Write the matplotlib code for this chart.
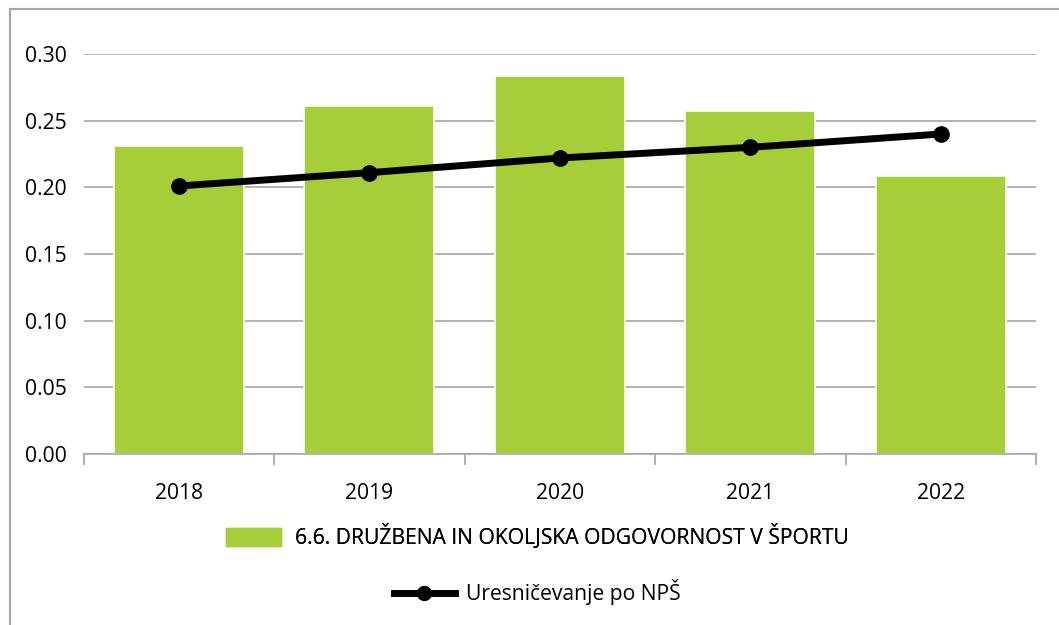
import matplotlib.pyplot as plt
from matplotlib.lines import Line2D
from matplotlib.patches import Rectangle

years = ['2018', '2019', '2020', '2021', '2022']
odgovornost = [0.231, 0.261, 0.2835, 0.257, 0.2085]
uresnicevanje = [0.201, 0.211, 0.222, 0.230, 0.240]

bar_label = '6.6. DRUŽBENA IN OKOLJSKA ODGOVORNOST V ŠPORTU'
line_label = 'Uresničevanje po NPŠ'

green = '#a6ce39'
grid_grey = '#a6a6a6'

plt.rcParams['font.family'] = ['Open Sans', 'DejaVu Sans']
fs = 15.2

fig = plt.figure(figsize=(10.59, 6.25), dpi=100)
# chart-area frame (clipped at the right and bottom edges)
fig.add_artist(Rectangle((10 / 1059, -0.1), 1.2, 1 - 9 / 625 + 0.1,
                         transform=fig.transFigure, fill=False,
                         edgecolor=grid_grey, linewidth=1.5))

ax = fig.add_axes([83.5 / 1059, 1 - 454 / 625, (1036 - 83.5) / 1059, 400 / 625])
x = range(len(years))
ax.bar(x, odgovornost, width=0.68, color=green, edgecolor='white',
       linewidth=1.2, zorder=2)
ax.plot(x, uresnicevanje, color='black', linewidth=5, marker='o',
        markersize=11, zorder=3, solid_capstyle='round')

ax.set_xlim(-0.5, len(years) - 0.5)
ax.set_ylim(0, 0.30)
ax.set_yticks([0, 0.05, 0.10, 0.15, 0.20, 0.25, 0.30])
ax.set_yticklabels(['%.2f' % v for v in ax.get_yticks()])
ax.yaxis.grid(True, color=grid_grey, linewidth=1.2, zorder=0)
ax.set_axisbelow(True)
for s in ['top', 'right', 'left']:
    ax.spines[s].set_visible(False)
ax.spines['bottom'].set_color(grid_grey)
ax.spines['bottom'].set_linewidth(1.2)
ax.tick_params(axis='y', length=0, pad=12, labelsize=fs)

# category labels centred, tick marks at boundaries
ax.set_xticks([i - 0.5 for i in range(len(years) + 1)])
ax.set_xticklabels([])
ax.set_xticks(list(x), minor=True)
ax.set_xticklabels(years, minor=True)
ax.tick_params(axis='x', which='major', length=8, color=grid_grey, width=1.2)
ax.tick_params(axis='x', which='minor', length=0, pad=21, labelsize=fs)

leg1 = fig.legend([Rectangle((0, 0), 1, 1, color=green)], [bar_label],
                  loc='center', bbox_to_anchor=(537.5 / 1059, 1 - 537 / 625),
                  frameon=False, fontsize=fs, handlelength=2.6,
                  handleheight=0.9, handletextpad=0.65)
fig.legend([Line2D([], [], color='black', linewidth=5, marker='o', markersize=10)],
           [line_label], loc='center',
           bbox_to_anchor=(537 / 1059, 1 - 592 / 625),
           frameon=False, fontsize=fs, handlelength=2.9, handletextpad=0.5)
fig.add_artist(leg1)

fig.savefig('out.png', dpi=100)
